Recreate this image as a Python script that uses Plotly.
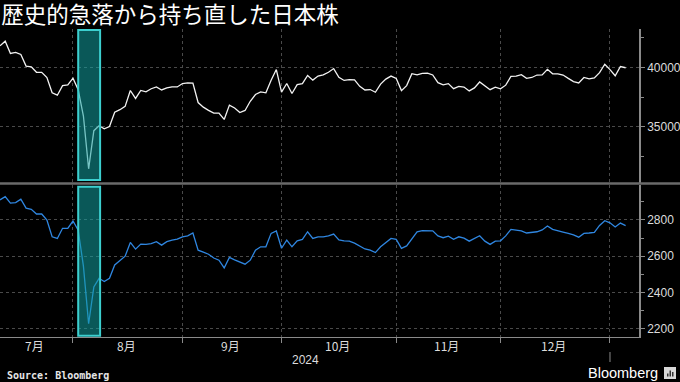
import pandas as pd
import plotly.graph_objects as go

title = "歴史的急落から持ち直した日本株"
source = "Source: Bloomberg"

start_date = "2024-07-10"
end_date = "2025-01-08"
holidays = ["2024-07-15", "2024-08-12", "2024-09-16", "2024-09-23", "2024-10-14",
            "2024-11-04", "2024-12-31", "2025-01-01", "2025-01-02", "2025-01-03"]
highlight = ["2024-08-01", "2024-08-07"]
month_labels = ["7月", "8月", "9月", "10月", "11月", "12月"]
year_label = "2024"

nikkei = [41831, 42224, 41190, 41275, 41098, 40126, 40063, 39599, 39594, 39155, 37869, 37667, 38468, 38526, 39101,
          38126, 35909, 31458, 34675, 35089, 34831, 35025, 36232, 36442, 36726, 38062, 37389, 38063, 37951, 38211,
          38364, 38110, 38288, 38371, 38362, 38648,
          38700, 38686, 37047, 36657, 36391, 36159, 36159, 35620, 36833, 36581, 36204, 36380, 37155, 37724, 37941,
          37871, 38926, 39830, 37920,
          38651, 37809, 38552, 38636, 39333, 38937, 39278, 39381, 39605, 39911, 39181, 38911, 38982, 38955, 38412,
          38105, 38143, 37914, 38605, 39027, 39277, 39081,
          38054, 38475, 39480, 39381, 39500, 39533, 39376, 38721, 38536, 38642, 38220, 38415, 38352, 38026, 38284,
          38780, 38442, 38134, 38349, 38208,
          38513, 39248, 39276, 39395, 39091, 39161, 39367, 39373, 39850, 39470, 39457, 39365, 39082, 38813, 38702,
          39161, 39037, 39130, 39568, 40281, 39820,
          39307, 40083, 39981]

topix = [2911, 2929, 2893, 2896, 2915, 2865, 2859, 2833, 2833, 2800, 2707, 2698, 2754, 2754, 2794,
         2744, 2545, 2227, 2430, 2478, 2460, 2478, 2552, 2578, 2600, 2676, 2639, 2667, 2665, 2670,
         2680, 2661, 2680, 2689, 2694, 2707,
         2712, 2728, 2633, 2622, 2611, 2590, 2578, 2535, 2593, 2580, 2569, 2556, 2578, 2633, 2652,
         2652, 2726, 2739, 2644,
         2689, 2652, 2685, 2693, 2735, 2698, 2707, 2707, 2712, 2722, 2690, 2685, 2683, 2672, 2655,
         2640, 2633, 2620, 2652, 2674, 2698, 2693,
         2643, 2657, 2698, 2735, 2741, 2741, 2740, 2712, 2702, 2711, 2693, 2707, 2700, 2683, 2698,
         2713, 2683, 2665, 2683, 2685,
         2712, 2748, 2744, 2740, 2728, 2731, 2735, 2745, 2767, 2748, 2739, 2733, 2726, 2718, 2705,
         2726, 2728, 2732, 2770, 2796, 2784,
         2761, 2783, 2769]

dates = [d for d in pd.bdate_range(start_date, end_date) if d.strftime("%Y-%m-%d") not in holidays]
idx = list(range(len(dates)))
dser = pd.Series(dates)
# last trading day of each month -> gridlines
month_key = dser.dt.to_period("M")
month_end_idx = [int(i) for i in dser.groupby(month_key).apply(lambda s: s.index.max()).values][:-1]
bounds = [0] + month_end_idx
month_centers = [(bounds[i] + bounds[i + 1]) / 2 for i in range(len(month_labels))]
year_end_idx = month_end_idx[-1]
hl0 = [i for i, d in enumerate(dates) if d.strftime("%Y-%m-%d") == highlight[0]][0]
hl1 = [i for i, d in enumerate(dates) if d.strftime("%Y-%m-%d") == highlight[1]][0]

W, H = 680, 382
ML, MR, MT, MB = 0, 41, 29, 45
plot_w = W - ML - MR
plot_h = H - MT - MB
px_per_day = (610 - 73) / (month_end_idx[-1] - month_end_idx[0])
xmax = plot_w / px_per_day

grid_c = "#4a4a4a"
axis_c = "#8a8a8a"
txt_c = "#dcdcdc"

fig = go.Figure()
fig.add_trace(go.Scatter(x=idx, y=nikkei, mode="lines", line=dict(color="#f2f2f2", width=1.3),
                         xaxis="x", yaxis="y", hoverinfo="skip"))
fig.add_trace(go.Scatter(x=idx, y=topix, mode="lines", line=dict(color="#2f86e0", width=1.3),
                         xaxis="x2", yaxis="y2", hoverinfo="skip"))

common_x = dict(range=[0, xmax], tickmode="array", tickvals=month_end_idx, showticklabels=False,
                showgrid=True, gridcolor=grid_c, griddash="dot", gridwidth=1, zeroline=False,
                automargin=False)
fig.update_layout(
    width=W, height=H, margin=dict(l=ML, r=MR, t=MT, b=MB, pad=0),
    paper_bgcolor="black", plot_bgcolor="black", showlegend=False,
    font=dict(family="Liberation Sans, Arial, sans-serif", color=txt_c, size=12),
    title=dict(text=title, x=0.002, xanchor="left", xref="container", y=1 - 15 / H, yanchor="middle",
               yref="container", font=dict(family="Noto Sans CJK JP", size=22.5, color="white")),
    xaxis=dict(anchor="y", ticks="", showline=False, **common_x),
    xaxis2=dict(anchor="y2", ticks="outside", ticklen=5, tickcolor=axis_c, tickwidth=1,
                showline=True, linecolor=axis_c, linewidth=1.2, **common_x),
    yaxis=dict(domain=[0.5, 1.0], anchor="x", side="right", range=[30260, 43250],
               tickmode="linear", tick0=0, dtick=5000, tickformat="d", ticks="outside", ticklen=4,
               tickcolor=axis_c,
               minor=dict(tickmode="linear", tick0=0, dtick=2500, ticks="outside", ticklen=3,
                          tickcolor=axis_c, showgrid=False),
               showgrid=True, gridcolor=grid_c, griddash="dot", zeroline=False, automargin=False,
               showline=True, linecolor=axis_c, linewidth=1.5, tickfont=dict(size=12, color=txt_c)),
    yaxis2=dict(domain=[0, 152 / plot_h], anchor="x2", side="right", range=[2154, 2993],
                tickmode="linear", tick0=0, dtick=200, tickformat="d", ticks="outside", ticklen=4,
                tickcolor=axis_c,
                minor=dict(tickmode="linear", tick0=0, dtick=100, ticks="outside", ticklen=3,
                           tickcolor=axis_c, showgrid=False),
                showgrid=True, gridcolor=grid_c, griddash="dot", zeroline=False, automargin=False,
                showline=True, linecolor=axis_c, linewidth=1.5, tickfont=dict(size=12, color=txt_c)),
)

def py(pix):
    return (H - MB - pix) / plot_h

def pxx(pix):
    return (pix - ML) / plot_w

# panel separator across the full width
fig.add_shape(type="line", xref="paper", yref="paper", x0=0, x1=pxx(W), y0=py(183.5), y1=py(183.5),
              line=dict(color="#6a6a6a", width=2.5), layer="above")

# highlight boxes
for xr, yr, yb, yt in [("x", "y domain", 0.02, 0.9935), ("x2", "y2 domain", 0.009, 0.989)]:
    fig.add_shape(type="rect", xref=xr, yref=yr, x0=hl0, x1=hl1 + 0.2, y0=yb, y1=yt,
                  fillcolor="rgba(18,160,160,0.55)", line=dict(color="#3ccfcf", width=2), layer="above")

annotations = []
for lab, c in zip(month_labels, month_centers):
    annotations.append(dict(text=lab, x=c - 0.3, xref="x2", y=py(345), yref="paper", showarrow=False,
                            xanchor="center", yanchor="middle",
                            font=dict(family="Noto Sans CJK JP", size=12, color=txt_c)))
annotations.append(dict(text=year_label, x=year_end_idx / 2, xref="x2", y=py(360), yref="paper",
                        showarrow=False, xanchor="center", yanchor="middle",
                        font=dict(family="Liberation Sans", size=12, color=txt_c)))
annotations.append(dict(text="<b>" + source + "</b>", x=pxx(5), xref="paper", y=py(375), yref="paper",
                        showarrow=False, xanchor="left", yanchor="middle",
                        font=dict(family="DejaVu Sans Mono", size=10, color="#e6e6e6")))
annotations.append(dict(text="Bloomberg", x=pxx(660), xref="paper", y=py(372.5), yref="paper",
                        showarrow=False, xanchor="right", yanchor="middle",
                        font=dict(family="Liberation Sans", size=14.5, color="white")))
fig.update_layout(annotations=annotations)

# year separator tick
fig.add_shape(type="line", xref="x2", yref="paper", x0=year_end_idx, x1=year_end_idx,
              y0=py(352), y1=py(362), line=dict(color=axis_c, width=1))
# logo icon
fig.add_shape(type="rect", xref="paper", yref="paper", x0=pxx(664), x1=pxx(676), y0=py(379), y1=py(367),
              fillcolor="#d8d8d8", line=dict(width=0))
for bx, bh in [(667, 3), (669.5, 6), (672, 4.5)]:
    fig.add_shape(type="rect", xref="paper", yref="paper", x0=pxx(bx), x1=pxx(bx + 1.5),
                  y0=py(376.5), y1=py(376.5 - bh), fillcolor="#333", line=dict(width=0))

fig.write_html("out.html", config={"displayModeBar": False},
               post_script="document.body.style.margin='0';document.body.style.background='black';")
